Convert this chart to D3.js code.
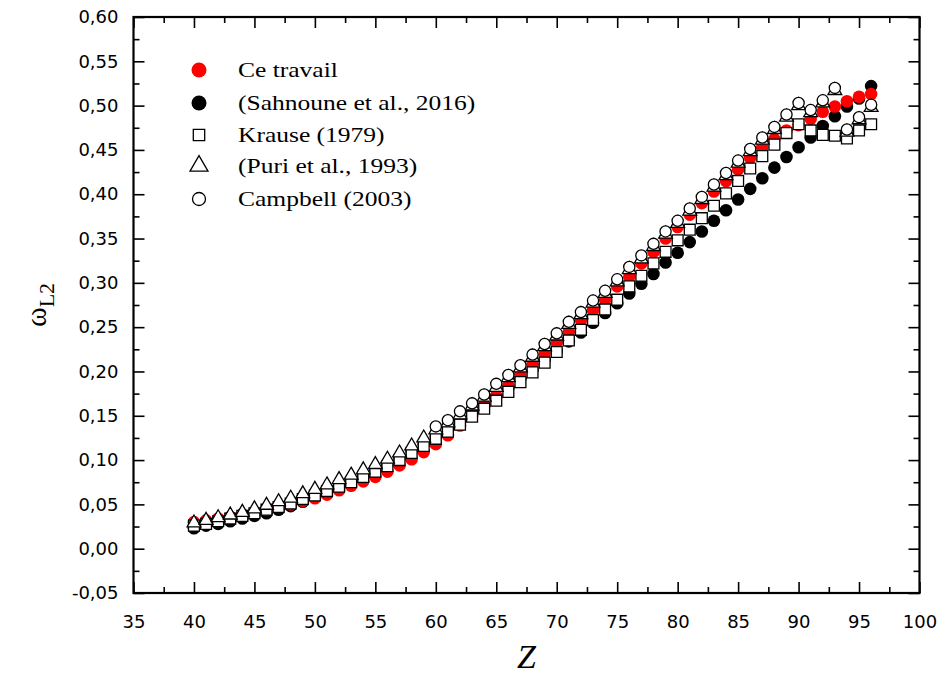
<!DOCTYPE html>
<html><head><meta charset="utf-8">
<script src="https://cdn.jsdelivr.net/npm/d3@7"></script>
<style>body{margin:0;background:#fff}svg{display:block}</style>
</head><body><svg id="c" width="946" height="675"></svg>
<script>
// ---------- data ----------
const zAll = [40,41,42,43,44,45,46,47,48,49,50,51,52,53,54,55,56,57,58,59,60,61,62,63,64,65,66,67,68,69,70,71,72,73,74,75,76,77,78,79,80,81,82,83,84,85,86,87,88,89,90,91,92,93,94,95,96];
const zCampbell = [60,61,62,63,64,65,66,67,68,69,70,71,72,73,74,75,76,77,78,79,80,81,82,83,84,85,86,87,88,89,90,91,92,93,94,95,96];

const ceTravail = [0.030,0.032,0.034,0.036,0.039,0.041,0.044,0.047,0.050,0.054,0.057,0.061,0.066,0.071,0.076,0.081,0.087,0.094,0.101,0.109,0.118,0.128,0.139,0.150,0.161,0.172,0.184,0.196,0.208,0.220,0.232,0.245,0.258,0.269,0.281,0.296,0.307,0.322,0.335,0.350,0.363,0.377,0.390,0.403,0.415,0.428,0.441,0.453,0.462,0.472,0.478,0.485,0.493,0.499,0.505,0.510,0.513];
const sahnoune = [0.023,0.026,0.028,0.031,0.034,0.037,0.040,0.044,0.048,0.053,0.058,0.064,0.069,0.075,0.081,0.088,0.095,0.102,0.110,0.118,0.126,0.135,0.144,0.153,0.162,0.172,0.182,0.192,0.202,0.213,0.223,0.234,0.244,0.255,0.266,0.277,0.288,0.299,0.310,0.323,0.334,0.346,0.358,0.370,0.382,0.394,0.406,0.418,0.430,0.442,0.453,0.464,0.477,0.488,0.499,0.508,0.522];
const krause = [0.026,0.028,0.031,0.034,0.037,0.040,0.044,0.047,0.051,0.056,0.060,0.065,0.070,0.075,0.081,0.087,0.093,0.100,0.108,0.116,0.124,0.132,0.140,0.149,0.158,0.167,0.177,0.188,0.199,0.210,0.222,0.235,0.247,0.258,0.270,0.281,0.296,0.308,0.322,0.335,0.348,0.360,0.373,0.387,0.401,0.415,0.429,0.443,0.456,0.469,0.479,0.472,0.467,0.466,0.463,0.472,0.479];
const puri = [0.029,0.032,0.035,0.038,0.041,0.045,0.049,0.053,0.057,0.062,0.067,0.072,0.078,0.083,0.089,0.095,0.101,0.108,0.116,0.125,0.134,0.142,0.151,0.161,0.171,0.182,0.193,0.204,0.216,0.228,0.240,0.253,0.264,0.277,0.288,0.301,0.315,0.327,0.341,0.355,0.367,0.381,0.394,0.408,0.421,0.435,0.448,0.461,0.473,0.487,0.500,0.492,0.503,0.517,0.470,0.484,0.498];
const campbell = [0.138,0.145,0.155,0.164,0.174,0.186,0.196,0.207,0.219,0.231,0.243,0.256,0.267,0.280,0.291,0.304,0.318,0.331,0.344,0.358,0.370,0.384,0.397,0.411,0.424,0.438,0.451,0.464,0.476,0.490,0.503,0.495,0.506,0.520,0.473,0.487,0.501];

const seriesNames = ["Ce travail","(Sahnoune et al., 2016)","Krause (1979)","(Puri et al., 1993)","Campbell (2003)"];
const xTicks = [35,40,45,50,55,60,65,70,75,80,85,90,95,100];
const xMinor = [37.5,42.5,47.5,52.5,57.5,62.5,67.5,72.5,77.5,82.5,87.5,92.5,97.5];
const yTicks = [-0.05,0,0.05,0.10,0.15,0.20,0.25,0.30,0.35,0.40,0.45,0.50,0.55,0.60];
const yMinor = [-0.025,0.025,0.075,0.125,0.175,0.225,0.275,0.325,0.375,0.425,0.475,0.525,0.575];

// ---------- chart ----------
const svg = d3.select('#c');
const L = 133.5, R = 919.5, T = 17, B = 593;
const x = d3.scaleLinear().domain([35,100]).range([L,R]);
const y = d3.scaleLinear().domain([-0.05,0.6]).range([B,T]);
const fmtY = v => d3.format('.2f')(v).replace('.', ',').replace('−','-');

function styleAxis(g, fs){
  g.select('.domain').remove();
  g.selectAll('line').attr('stroke','#000').attr('stroke-width',1.6);
  g.selectAll('text').attr('font-family','"DejaVu Sans", sans-serif').attr('font-size',fs).attr('fill','#000');
}
// bottom
svg.append('g').attr('transform',`translate(0,${B})`)
  .call(d3.axisBottom(x).tickValues(xTicks).tickSize(-11).tickPadding(22).tickFormat(d3.format('d')))
  .call(g=>styleAxis(g,18));
svg.append('g').attr('transform',`translate(0,${B})`)
  .call(d3.axisBottom(x).tickValues(xMinor).tickSize(-6).tickFormat(''))
  .call(g=>styleAxis(g,18));
// top
svg.append('g').attr('transform',`translate(0,${T})`)
  .call(d3.axisTop(x).tickValues(xTicks).tickSize(-11).tickFormat(''))
  .call(g=>styleAxis(g,18));
svg.append('g').attr('transform',`translate(0,${T})`)
  .call(d3.axisTop(x).tickValues(xMinor).tickSize(-6).tickFormat(''))
  .call(g=>styleAxis(g,18));
// left
svg.append('g').attr('transform',`translate(${L},0)`)
  .call(d3.axisLeft(y).tickValues(yTicks).tickSize(-11).tickPadding(15).tickFormat(fmtY))
  .call(g=>styleAxis(g,18));
svg.append('g').attr('transform',`translate(${L},0)`)
  .call(d3.axisLeft(y).tickValues(yMinor).tickSize(-6).tickFormat(''))
  .call(g=>styleAxis(g,18));
// right
svg.append('g').attr('transform',`translate(${R},0)`)
  .call(d3.axisRight(y).tickValues(yTicks).tickSize(-11).tickFormat(''))
  .call(g=>styleAxis(g,18));
svg.append('g').attr('transform',`translate(${R},0)`)
  .call(d3.axisRight(y).tickValues(yMinor).tickSize(-6).tickFormat(''))
  .call(g=>styleAxis(g,18));
// frame
svg.append('rect').attr('x',L).attr('y',T).attr('width',R-L).attr('height',B-T)
  .attr('fill','none').attr('stroke','#000').attr('stroke-width',2.2);

// ---------- markers ----------
const plot = svg.append('g');
const sq = d3.symbol().type(d3.symbolSquare).size(118);
const tri = d3.symbol().type(d3.symbolTriangle).size(82);

plot.append('g').selectAll('circle').data(zAll.map((z,i)=>[z,sahnoune[i]])).join('circle')
  .attr('cx',d=>x(d[0])).attr('cy',d=>y(d[1])).attr('r',6.3).attr('fill','#000');
plot.append('g').selectAll('circle').data(zAll.map((z,i)=>[z,ceTravail[i]])).join('circle')
  .attr('cx',d=>x(d[0])).attr('cy',d=>y(d[1])).attr('r',6.3).attr('fill','#ff0000');
plot.append('g').selectAll('path').data(zAll.map((z,i)=>[z,krause[i]])).join('path')
  .attr('d',sq).attr('transform',d=>`translate(${x(d[0])},${y(d[1])})`)
  .attr('fill','#fff').attr('stroke','#000').attr('stroke-width',1.3);
plot.append('g').selectAll('path').data(zAll.map((z,i)=>[z,puri[i]])).join('path')
  .attr('d',tri).attr('transform',d=>`translate(${x(d[0])},${y(d[1])})`)
  .attr('fill','#fff').attr('stroke','#000').attr('stroke-width',1.3);
plot.append('g').selectAll('circle').data(zCampbell.map((z,i)=>[z,campbell[i]])).join('circle')
  .attr('cx',d=>x(d[0])).attr('cy',d=>y(d[1])).attr('r',5.6)
  .attr('fill','#fff').attr('stroke','#000').attr('stroke-width',1.3);

// ---------- legend ----------
const leg = svg.append('g');
const legY = [70,103,135,166,199];
const legX = 199, legTX = 238;
leg.append('circle').attr('cx',legX).attr('cy',legY[0]).attr('r',7.5).attr('fill','#ff0000');
leg.append('circle').attr('cx',legX).attr('cy',legY[1]).attr('r',7.5).attr('fill','#000');
leg.append('path').attr('d',d3.symbol().type(d3.symbolSquare).size(130)())
  .attr('transform',`translate(${legX},${legY[2]})`).attr('fill','#fff').attr('stroke','#000').attr('stroke-width',1.3);
leg.append('path').attr('d',d3.symbol().type(d3.symbolTriangle).size(140)())
  .attr('transform',`translate(${legX},${legY[3]})`).attr('fill','#fff').attr('stroke','#000').attr('stroke-width',1.3);
leg.append('circle').attr('cx',legX).attr('cy',legY[4]).attr('r',6.5)
  .attr('fill','#fff').attr('stroke','#000').attr('stroke-width',1.3);
seriesNames.forEach((n,i)=>{
  leg.append('text').attr('transform',`translate(${legTX},${legY[i]+7}) scale(1.16,1)`)
    .attr('font-family','"Liberation Serif", "Times New Roman", serif').attr('font-size',22)
    .attr('fill','#000').text(n);
});

// ---------- titles ----------
svg.append('text').attr('x',(L+R)/2).attr('y',668).attr('text-anchor','middle')
  .attr('font-family','"Liberation Serif", "Times New Roman", serif').attr('font-style','italic')
  .attr('font-size',34).text('Z');
const yt = svg.append('text').attr('transform','translate(46,305) rotate(-90)')
  .attr('text-anchor','middle').attr('font-family','"Liberation Serif", "Times New Roman", serif');
yt.append('tspan').attr('font-size',30).text('ω');
yt.append('tspan').attr('font-size',22).attr('dy',8).text('L2');
</script></body></html>
